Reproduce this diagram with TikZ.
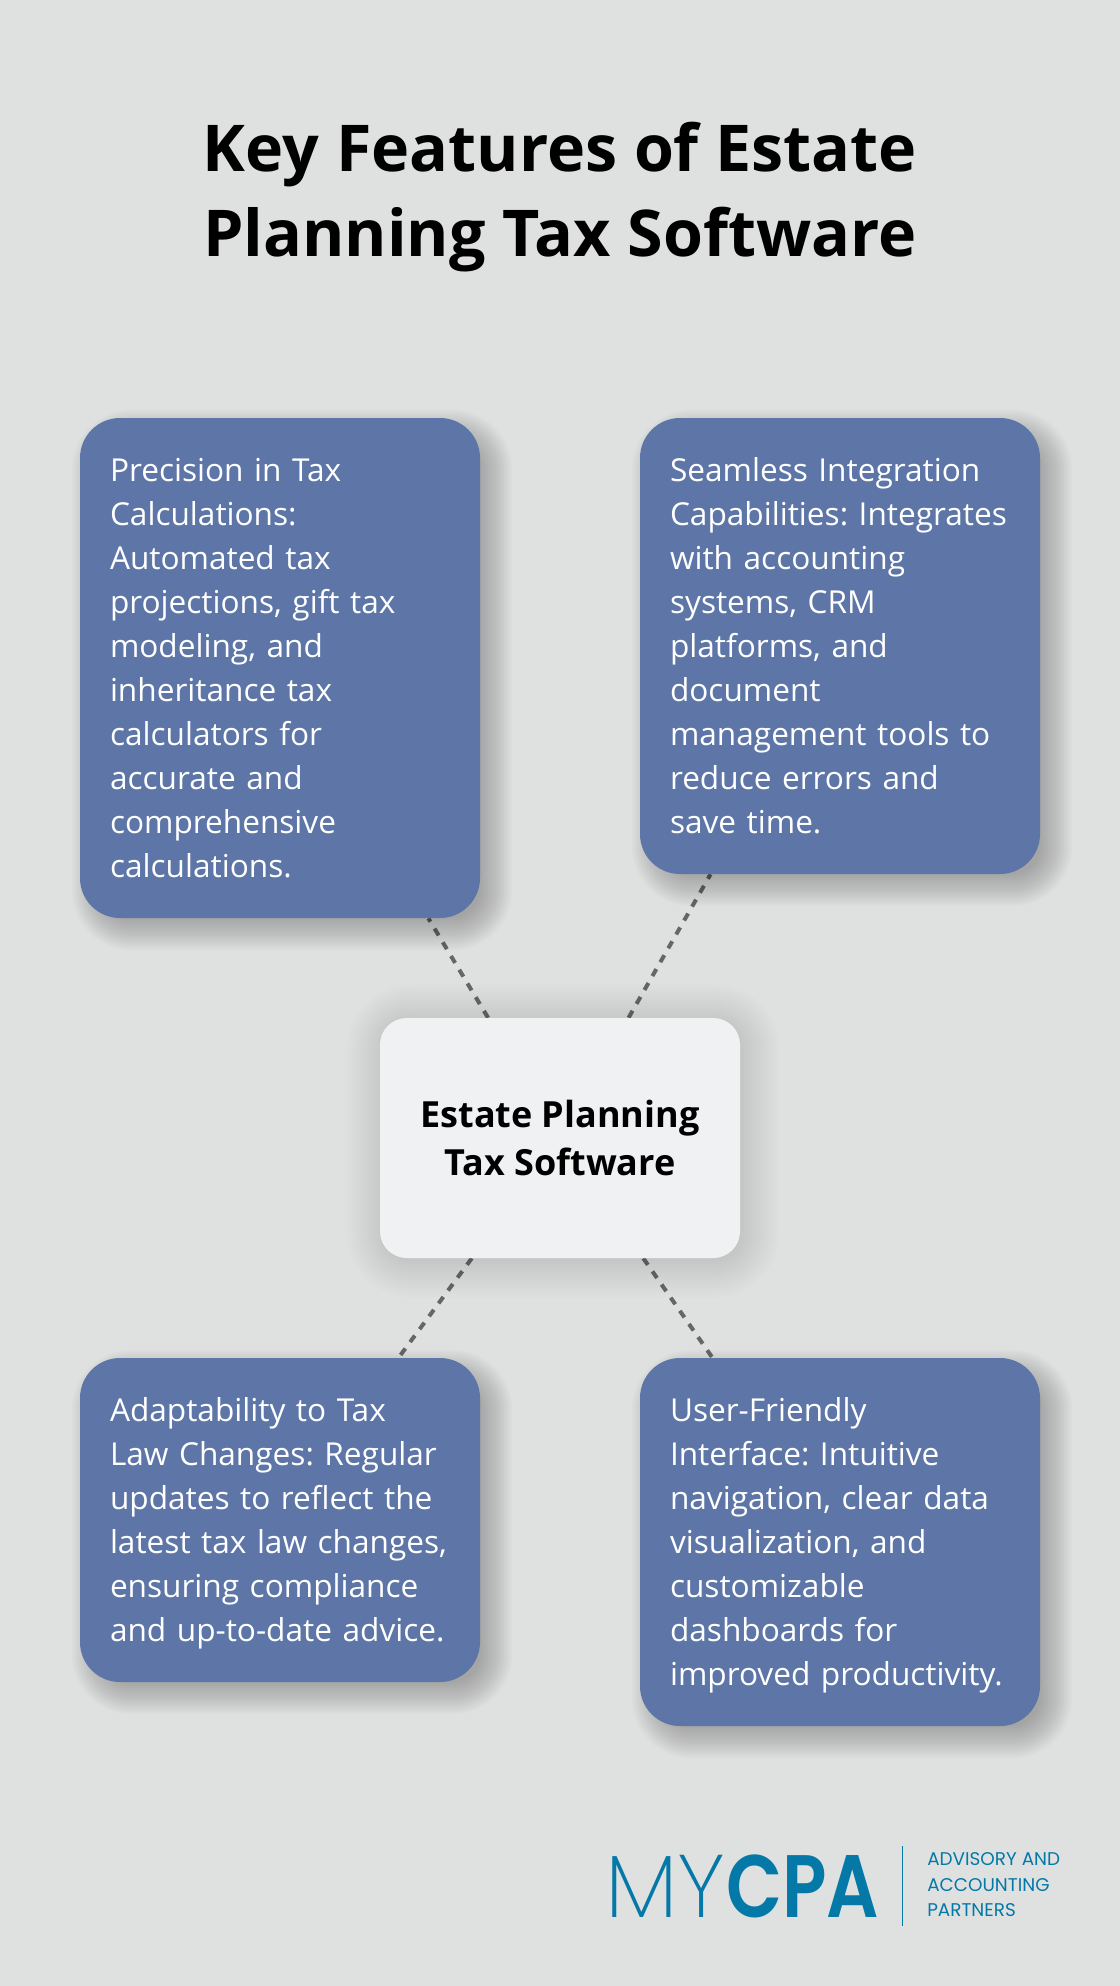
\documentclass[tikz,border=0pt]{standalone}
\usepackage{fontspec}
\setmainfont{Open Sans}
\newfontfamily\logolight{Poppins ExtraLight}
\newfontfamily\logobold[FakeStretch = 0.825]{Poppins SemiBold}
\newfontfamily\logotext{Poppins}
\usetikzlibrary{backgrounds}
\definecolor{pagegray}{HTML}{DFE1E0}
\definecolor{cardblue}{HTML}{5D76A7}
\definecolor{hubwhite}{HTML}{EFF1F3}
\definecolor{logoblue}{HTML}{0479A8}
\definecolor{dashgray}{HTML}{666666}
\newcommand{\cardstrut}{\rule[-7.7pt]{0pt}{33pt}}
\tikzset{
	card/.style = {fill = cardblue, text = white, rounded corners = 30pt, inner sep = 22.5pt,
		text width = 255pt, minimum width = 300pt,
		font = \fontsize{23.7}{33}\selectfont,
		execute at begin node = {\raggedright\rightskip = -20pt plus 2em\relax\hyphenpenalty = 10000\leavevmode\cardstrut},
		execute at end node = {\cardstrut}},
	hub/.style = {fill = hubwhite, rounded corners = 20pt, minimum width = 270pt, minimum height = 180pt,
		align = center, font = \fontsize{27}{36}\selectfont\bfseries},
	link/.style = {draw = dashgray, line width = 3pt, dash pattern = on 6pt off 6pt},
	logotag/.style = {text = logoblue, anchor = base west, inner sep = 0pt, font = \fontsize{13.8}{15}\logotext}
}
\frenchspacing
\begin{document}
\begin{tikzpicture}[x = 0.75pt, y = -0.75pt]
	\useasboundingbox (0,0) rectangle (1120,1986);
	\node[font = \fontsize{48.4}{64}\selectfont\bfseries, align = center] (TITLE) at (560,197)
		{Key Features of Estate\\Planning Tax Software};
	\node[card] (PRECISION) at (280,668)
		{Precision in Tax\\Calculations:\\Automated tax\\projections, gift tax\\modeling, and\\inheritance tax\\calculators for\\accurate and\\comprehensive\\calculations.};
	\node[card] (INTEGRATION) at (840,646)
		{Seamless Integration\\Capabilities: Integrates\\with accounting\\systems, CRM\\platforms, and\\document\\management tools to\\reduce errors and\\save time.};
	\node[card] (ADAPTABILITY) at (280,1520)
		{Adaptability to Tax\\Law Changes: Regular\\updates to reflect the\\latest tax law changes,\\ensuring compliance\\and up-to-date advice.};
	\node[card] (INTERFACE) at (840,1542)
		{User-Friendly\\Interface: Intuitive\\navigation, clear data\\visualization, and\\customizable\\dashboards for\\improved productivity.};
	\node[hub] (HUB) at (560,1138) {Estate Planning\\Tax Software};
	\begin{scope}[on background layer]
		\fill[pagegray] (0,0) rectangle (1120,1986);
		\foreach \target in {PRECISION, INTEGRATION, ADAPTABILITY, INTERFACE}
			\draw[link] (HUB) -- (\target);
		% soft shadows
		\foreach \target/\dx/\low/\nxt/\high/\alpha/\rad in {PRECISION/12/-12/-10/20/0.017/40, INTEGRATION/12/-12/-10/20/0.017/40, ADAPTABILITY/12/-12/-10/20/0.017/40, INTERFACE/12/-12/-10/20/0.017/40, HUB/3/0/3/36/0.009/28}
			\foreach \grow in {\low,\nxt,...,\high}
				\fill[black, opacity = \alpha, rounded corners = {(\rad+\grow)*0.75pt}]
				([shift = {(\dx-\grow,\dx-\grow)}]\target.north west) rectangle ([shift = {(\dx+\grow,\dx+\grow)}]\target.south east);
	\end{scope}
	% logo
	\node[text = logoblue, anchor = base west, inner sep = 0pt, font = \fontsize{66.5}{68}\logolight] (MY) at (605,1917) {MY};
	\node[text = logoblue, anchor = base west, inner sep = 0pt, font = \fontsize{66.5}{68}\logobold] (CPA) at (726,1917) {CPA};
	\coordinate (RULETOP) at (902,1846);
	\coordinate (RULEEND) at (902,1926);
	\draw[logoblue, line width = 0.75pt] (RULETOP) -- (RULEEND);
	\node[logotag] (TAGA) at (927,1865) {ADVISORY AND};
	\node[logotag] (TAGB) at (927,1891) {ACCOUNTING};
	\node[logotag] (TAGC) at (927,1916) {PARTNERS};
\end{tikzpicture}
\end{document}
